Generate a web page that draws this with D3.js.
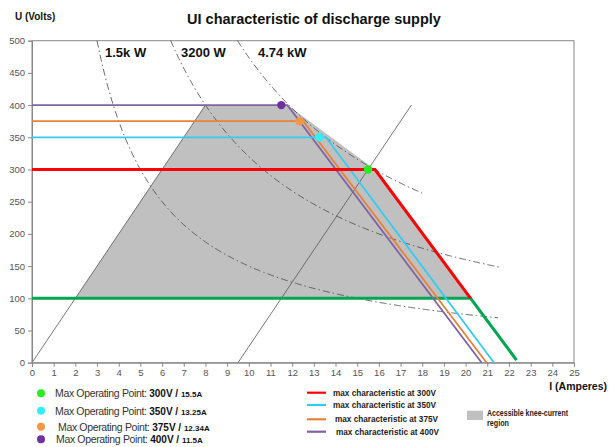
<!DOCTYPE html>
<html>
<head>
<meta charset="utf-8">
<script src="https://cdn.jsdelivr.net/npm/d3@7"></script>
<style>
  body { margin: 0; background: #fff; }
  svg { display: block; font-family: "Liberation Sans", Arial, sans-serif; }
</style>
</head>
<body>
<svg id="chart" width="609" height="447"></svg>
<script>
// values
const xTicks = [0, 1, 2, 3, 4, 5, 6, 7, 8, 9, 10, 11, 12, 13, 14, 15, 16, 17, 18, 19, 20, 21, 22, 23, 24, 25]
const yTicks = [0, 50, 100, 150, 200, 250, 300, 350, 400, 450, 500]

// max characteristics: flat at U up to the knee, then falling
const charVolts = [300, 350, 375, 400]
const charKneeAmps = [15.82, 13.56, 12.51, 11.78]
const charEndAmps = [20.23, 21.31, 20.97, 20.74]
const charEndVolts = [100, 0, 0, 0]

// the 100 V line
const minVolts = 100
const minKneeAmps = 20.23
const minEndAmps = 22.35
const minEndVolts = 4

// max operating points
const opVolts = [300, 350, 375, 400]
const opAmps = [15.5, 13.25, 12.34, 11.5]
const opAmpLabels = ['15.5A', '13.25A', '12.34A', '11.5A']

// constant power curves
const powerWatts = [1500, 3200, 4740]
const powerLabels = ['1.5k W', '3200 W', '4.74 kW']
const powerEndAmps = [21.5, 21.6, 18.0]

// the two slanted guide lines
const guideStartAmps = [0, 9.5]
const guideEndAmps = [8, 17.5]
const guideEndVolts = [400, 400]

// accessible knee-current region
const regionAmps = [2, 8, 11.78, 15.82, 20.23]
const regionVolts = [100, 400, 400, 300, 100]

const charColors = { 300: '#ff0000', 350: '#33ccf0', 375: '#e8823a', 400: '#8064a2' }
const dotColors = { 300: '#22ee22', 350: '#33eeff', 375: '#f79646', 400: '#7030a0' }
const greenLine = '#00a651'

const svg = d3.select('#chart')

const x = d3.scaleLinear().domain([0, 25]).range([32, 574])
const y = d3.scaleLinear().domain([0, 500]).range([362.7, 40.7])

const line = d3.line().x(d => x(d[0])).y(d => y(d[1]))

// frame
svg.append('rect')
  .attr('x', x(0)).attr('y', y(500))
  .attr('width', x(25) - x(0)).attr('height', y(0) - y(500))
  .style('fill', 'none').style('stroke', '#888').style('stroke-width', 1)

// region
svg.append('path')
  .datum(regionAmps.map((a, i) => [a, regionVolts[i]]))
  .attr('d', d => line(d) + 'Z')
  .style('fill', '#c0c0c0')

// guide lines
guideStartAmps.forEach((a, i) => {
  svg.append('path')
    .datum([[a, 0], [guideEndAmps[i], guideEndVolts[i]]])
    .attr('d', line)
    .style('fill', 'none').style('stroke', '#555').style('stroke-width', 0.8)
})

// power curves
powerWatts.forEach((p, i) => {
  const amps = d3.range(p / 500, powerEndAmps[i], 0.05).concat([powerEndAmps[i]])
  svg.append('path')
    .datum(amps.map(a => [a, p / a]))
    .attr('d', line)
    .style('fill', 'none').style('stroke', '#444').style('stroke-width', 0.8)
    .style('stroke-dasharray', '7,3,1.5,3')
})

// axes
const xAxis = svg.append('g')
  .attr('transform', 'translate(0,' + y(0) + ')')
  .call(d3.axisBottom(x).tickValues(xTicks).tickSize(4).tickPadding(3).tickFormat(d3.format('d')))
const yAxis = svg.append('g')
  .attr('transform', 'translate(' + x(0) + ',0)')
  .call(d3.axisLeft(y).tickValues(yTicks).tickSize(4).tickPadding(3).tickFormat(d3.format('d')))
;[xAxis, yAxis].forEach(a => {
  a.select('.domain').style('stroke', '#888')
  a.selectAll('.tick line').style('stroke', '#888')
  a.selectAll('.tick text').style('fill', '#555').style('font-size', '9.5px')
    .style('font-family', '"Liberation Sans", Arial, sans-serif')
})

// 100 V line
svg.append('path')
  .datum([[0, minVolts], [minKneeAmps, minVolts], [minEndAmps, minEndVolts]])
  .attr('d', line)
  .style('fill', 'none').style('stroke', greenLine).style('stroke-width', 3)

// characteristics, 300 V last so it sits on top
;[3, 2, 1, 0].forEach(i => {
  const v = charVolts[i]
  svg.append('path')
    .datum([[0, v], [charKneeAmps[i], v], [charEndAmps[i], charEndVolts[i]]])
    .attr('d', line)
    .style('fill', 'none')
    .style('stroke', charColors[v])
    .style('stroke-width', v === 300 ? 3 : 1.8)
})

// operating points
svg.append('g')
  .selectAll('circle')
  .data(opVolts)
  .enter()
  .append('circle')
  .attr('cx', (d, i) => x(opAmps[i]))
  .attr('cy', d => y(d))
  .attr('r', 4.2)
  .style('fill', d => dotColors[d])

// titles
svg.append('text')
  .attr('x', 314).attr('y', 24)
  .attr('text-anchor', 'middle')
  .style('font-size', '14.5px').style('font-weight', 'bold').style('fill', '#111')
  .text('UI characteristic of discharge supply')

svg.append('text')
  .attr('x', 15).attr('y', 19.5)
  .style('font-size', '10px').style('font-weight', 'bold').style('fill', '#111')
  .text('U (Volts)')

svg.append('text')
  .attr('x', 607).attr('y', 390)
  .attr('text-anchor', 'end')
  .style('font-size', '10.5px').style('font-weight', 'bold').style('fill', '#111')
  .text('I (Amperes)')

const labelX = [105, 181, 258]
svg.append('g')
  .selectAll('text')
  .data(powerLabels)
  .enter()
  .append('text')
  .attr('x', (d, i) => labelX[i])
  .attr('y', 57)
  .style('font-size', '13px').style('font-weight', 'bold').style('fill', '#111')
  .text(d => d)

// legend: operating points
const opRowY = [393.3, 410.7, 426.7, 439.3]
const opTextX = [55, 55, 58, 56]
const opLegend = svg.append('g')
opVolts.forEach((v, i) => {
  opLegend.append('circle')
    .attr('cx', 41).attr('cy', opRowY[i]).attr('r', 4)
    .style('fill', dotColors[v])
  const t = opLegend.append('text')
    .attr('x', opTextX[i]).attr('y', opRowY[i] + 3.8)
    .style('fill', '#333')
  t.append('tspan').style('font-size', '10.5px').style('letter-spacing', '-0.35px')
    .text('Max Operating Point: ')
  t.append('tspan').style('font-size', '10px').style('font-weight', 'bold').style('fill', '#111')
    .text(v + 'V / ')
  t.append('tspan').style('font-size', '8px').style('font-weight', 'bold').style('fill', '#111')
    .text(opAmpLabels[i])
})

// legend: characteristics
const charRowY = [392.7, 405, 419.3, 431.7]
const charTextX = [333, 333, 335, 336]
const charLegend = svg.append('g')
charVolts.forEach((v, i) => {
  charLegend.append('line')
    .attr('x1', 307).attr('x2', 326)
    .attr('y1', charRowY[i]).attr('y2', charRowY[i])
    .style('stroke', charColors[v]).style('stroke-width', 2.2)
  charLegend.append('text')
    .attr('x', charTextX[i]).attr('y', charRowY[i] + 3)
    .attr('textLength', 103).attr('lengthAdjust', 'spacingAndGlyphs')
    .style('font-size', '8.5px').style('font-weight', 'bold').style('fill', '#222')
    .text('max characteristic  at ' + v + 'V')
})

// legend: region
svg.append('rect')
  .attr('x', 467).attr('y', 410.7).attr('width', 16).attr('height', 9.3)
  .style('fill', '#c0c0c0')
svg.append('text')
  .attr('x', 487).attr('y', 415.5)
  .attr('textLength', 81).attr('lengthAdjust', 'spacingAndGlyphs')
  .style('font-size', '8.5px').style('font-weight', 'bold').style('fill', '#222')
  .text('Accessible knee-current')
svg.append('text')
  .attr('x', 487).attr('y', 425.5)
  .attr('textLength', 22).attr('lengthAdjust', 'spacingAndGlyphs')
  .style('font-size', '8.5px').style('font-weight', 'bold').style('fill', '#222')
  .text('region')
</script>
</body>
</html>
